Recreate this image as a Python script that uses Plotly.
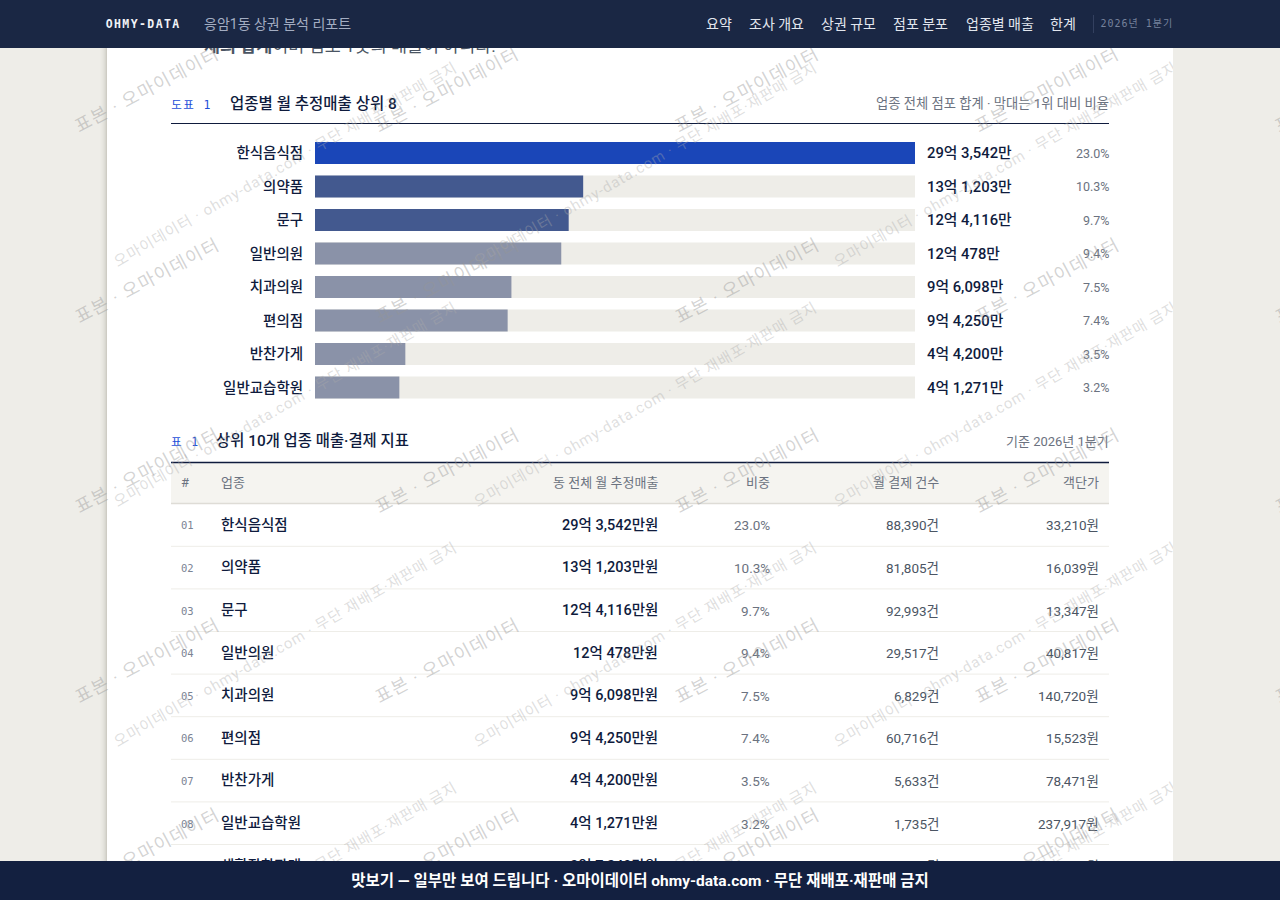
import plotly.graph_objects as go

W, H = 1280, 900

# ---------- data ----------
industries = ["한식음식점", "의약품", "문구", "일반의원", "치과의원", "편의점", "반찬가게", "일반교습학원", "생활잡화판매"]
monthly_sales_man = [293542, 131203, 124116, 120478, 96098, 94250, 44200, 41271, 37240]
shares_pct = [23.0, 10.3, 9.7, 9.4, 7.5, 7.4, 3.5, 3.2, 2.9]
payment_counts = [88390, 81805, 92993, 29517, 6829, 60716, 5633, 1735, 7412]
avg_ticket_won = [33210, 16039, 13347, 40817, 140720, 15523, 78471, 237917, 50243]
chart_top_n = 8
bar_colors = ["#1a46b8", "#43598f", "#43598f", "#8a92a8", "#8a92a8", "#8a92a8", "#8a92a8", "#8a92a8"]
table_headers = ["#", "업종", "동 전체 월 추정매출", "비중", "월 결제 건수", "객단가"]
nav_items = ["요약", "조사 개요", "상권 규모", "점포 분포", "업종별 매출", "한계"]
nav_x = [706, 749, 821, 893, 966, 1050]

SANS = "Roboto, Noto Sans CJK KR, sans-serif"
MONO = "DejaVu Sans Mono, Noto Sans CJK KR, monospace"
INK = "#0f1b3d"
MUTED = "#6b7280"
BODY = "#4b5563"
HEADER = "#1a2744"
FOOTER = "#132040"
MARGIN = "#eeede8"


def won(v):
    return f"{v // 10000}억 {v % 10000:,}만"


def px(x, y):
    return dict(x=x / W, y=1 - y / H, xref="paper", yref="paper")


def label(x, y, text, size=13, color=INK, anchor="left", family=SANS, weight=400, **kw):
    return dict(**px(x, y), text=text, showarrow=False, xanchor=anchor, yanchor="middle", borderpad=0, borderwidth=0,
                font=dict(family=family, size=size, color=color, weight=weight), **kw)


def rect(x0, y0, x1, y1, color, layer="below"):
    return dict(type="rect", xref="paper", yref="paper", x0=x0 / W, x1=x1 / W, y0=1 - y0 / H, y1=1 - y1 / H,
                fillcolor=color, line_width=0, layer=layer)


def hline(x0, x1, y, color, width=1):
    return dict(type="line", xref="paper", yref="paper", x0=x0 / W, x1=x1 / W, y0=1 - y / H, y1=1 - y / H,
                line=dict(color=color, width=width), layer="below")


def block(x, y, w, h, color, text="\u00a0", **kw):
    return dict(**px(x, y), text=text, showarrow=False, xanchor="left", yanchor="top", width=w, height=h,
                bgcolor=color, borderpad=0, borderwidth=0, **kw)


top_names = industries[:chart_top_n]
top_sales = monthly_sales_man[:chart_top_n]
top_shares = shares_pct[:chart_top_n]

fig = go.Figure()
fig.add_bar(y=top_names, x=[max(top_sales)] * chart_top_n, orientation="h", marker=dict(color=MARGIN, line_width=0),
            hoverinfo="skip", showlegend=False)
fig.add_bar(y=top_names, x=top_sales, orientation="h", marker=dict(color=bar_colors, line_width=0),
            showlegend=False)

# ---------- shapes ----------
shapes = []
for i, alpha in enumerate([0.006, 0.01, 0.014, 0.02, 0.028, 0.04, 0.06]):
    shapes.append(rect(100 + i, 48, 107, 861, f"rgba(60,55,40,{alpha})"))
    shapes.append(rect(1173, 48, 1180 - i, 861, f"rgba(60,55,40,{alpha})"))
shapes.append(rect(107, 48, 1173, 861, "#ffffff"))
shapes.append(hline(171, 1109, 123.5, INK, 1))
shapes.append(rect(171, 463, 1109, 503, "#f5f4f0"))
shapes.append(hline(171, 1109, 462.5, INK, 1.3))
shapes.append(hline(171, 1109, 503.5, "#dedcd6", 1.3))

# ---------- annotations ----------
ann = []
ann.append(label(204, 46, "<b>체의 합계</b>이며 점포 1곳의 매출이 아니다.", 17.4, "#4b5563"))

# figure heading
ann.append(label(173.5, 105, "도표 1", 11.5, "#1d4ed8", family=MONO))
ann.append(label(230, 104, "업종별 월 추정매출 상위 8", 15.5, INK, weight=500))
ann.append(label(1109, 104, "업종 전체 점포 합계 · 막대는 1위 대비 비율", 13.3, MUTED, "right"))

# bar value labels, tied to the category axis
for name, v, s in zip(top_names, top_sales, top_shares):
    ann.append(dict(x=927 / W, xref="paper", y=name, yref="y", text=won(v), showarrow=False, xanchor="left",
                    yanchor="middle", borderpad=0, borderwidth=0, font=dict(family=SANS, size=14.8, color=INK, weight=500)))
    ann.append(dict(x=1109.5 / W, xref="paper", y=name, yref="y", text=f"{s:.1f}%", showarrow=False, xanchor="right",
                    yanchor="middle", borderpad=0, borderwidth=0, font=dict(family=SANS, size=12.5, color=MUTED)))

# table heading
ann.append(label(173, 442, "표 1", 11.5, "#1d4ed8", family=MONO))
ann.append(label(216, 441, "상위 10개 업종 매출·결제 지표", 15.4, INK, weight=500))
ann.append(label(1109, 441, "기준 2026년 1분기", 13, MUTED, "right"))

# table header
head_x = [181, 221, 658, 770, 939, 1099]
head_anchor = ["left", "left", "right", "right", "right", "right"]
for t, x, a in zip(table_headers, head_x, head_anchor):
    ann.append(label(x, 482.5, t, 13, MUTED, a))

# table rows
ROW0, PITCH = 525.3, 42.6
for i, (n, v, s, c, p) in enumerate(zip(industries, monthly_sales_man, shares_pct, payment_counts, avg_ticket_won)):
    y = ROW0 + PITCH * i
    ann.append(label(181, y, f"{i + 1:02d}", 10.5, "#7b8494", family=MONO))
    ann.append(label(221, y, n, 14.5, INK, weight=500))
    ann.append(label(658, y, won(v) + "원", 14.5, INK, "right", weight=500))
    ann.append(label(770, y, f"{s:.1f}%", 13.5, MUTED, "right"))
    ann.append(label(939, y, f"{c:,}건", 13.5, BODY, "right"))
    ann.append(label(1099, y, f"{p:,}원", 13.5, BODY, "right"))
    if i < 8:
        shapes.append(hline(171, 1109, y + 21, "#eeede8", 1))

# watermarks
WM_A = "rgba(150,150,150,0.42)"
WM_B = "rgba(170,170,170,0.38)"
for cx in [285, 645, 1005]:
    for cy in [165, 405, 645, 885]:
        ann.append(label(cx, cy, "오마이데이터 · ohmy-data.com · 무단 재배포·재판매 금지", 15, WM_B, "center", textangle=-30))
# trims the small watermark at the page edge
ann.append(block(1173, 48, 20, 813, MARGIN))
for cx in [147, 447, 747, 1047, 1347]:
    for cy in [90, 280, 470, 660, 850]:
        ann.append(label(cx, cy, "표본 · 오마이데이터", 18, WM_A, "center", textangle=-28))

# header bar
ann.append(block(0, 0, W, 48, HEADER))
ann.append(label(112, 24, "OHMY-DATA", 11.5, "#f1f3f7", family=MONO, weight=700))
ann.append(label(204, 24, "응암1동 상권 분석 리포트", 14, "#a3adc2"))
for t, x in zip(nav_items, nav_x):
    ann.append(label(x, 24, t, 14, "#e2e6ee"))
ann.append(block(1093, 15, 1, 18, "#33405f"))
ann.append(label(1105, 24, "2026년 1분기", 10, "#76829c", family=MONO))

# footer bar
ann.append(block(0, 861, W, 39, FOOTER, text="<b>맛보기 — 일부만 보여 드립니다 · 오마이데이터 ohmy-data.com · 무단 재배포·재판매 금지</b>",
                 align="center", valign="middle", font=dict(family=SANS, size=15.5, color="#ffffff")))

fig.update_layout(
    width=W, height=H, margin=dict(l=0, r=0, t=0, b=0), autosize=False,
    paper_bgcolor=MARGIN, plot_bgcolor="rgba(0,0,0,0)",
    barmode="overlay", bargap=1 - 22 / 33.5, showlegend=False,
    xaxis=dict(domain=[315 / W, 915 / W], range=[0, max(top_sales)], visible=False, fixedrange=True),
    yaxis=dict(domain=[1 - 404.25 / H, 1 - 136.25 / H], type="category", range=[chart_top_n - 0.5, -0.5],
               showgrid=False, zeroline=False, showline=False, ticks="outside", ticklen=8,
               tickcolor="rgba(0,0,0,0)", tickfont=dict(family=SANS, size=14.5, color=INK, weight=500),
               fixedrange=True),
    shapes=shapes, annotations=ann,
)

post = """
document.body.style.margin = '0';
document.body.style.overflow = 'hidden';
var s = document.createElement('style');
s.textContent = 'svg text{text-rendering:optimizeSpeed !important}'
 + 'text.annotation-text[style*="font-size: 18px"]{letter-spacing:1.3px}'
 + 'text.annotation-text[style*="font-size: 11.5px"]{letter-spacing:1.4px}'
 + 'text.annotation-text[style*="font-size: 10px"]{letter-spacing:1px}'
 + 'text.annotation-text[style*="font-size: 15px"][style*="170, 170, 170"]{letter-spacing:0.9px}';
document.head.appendChild(s);
"""
fig.write_html("out.html", config={"displayModeBar": False}, post_script=post)
